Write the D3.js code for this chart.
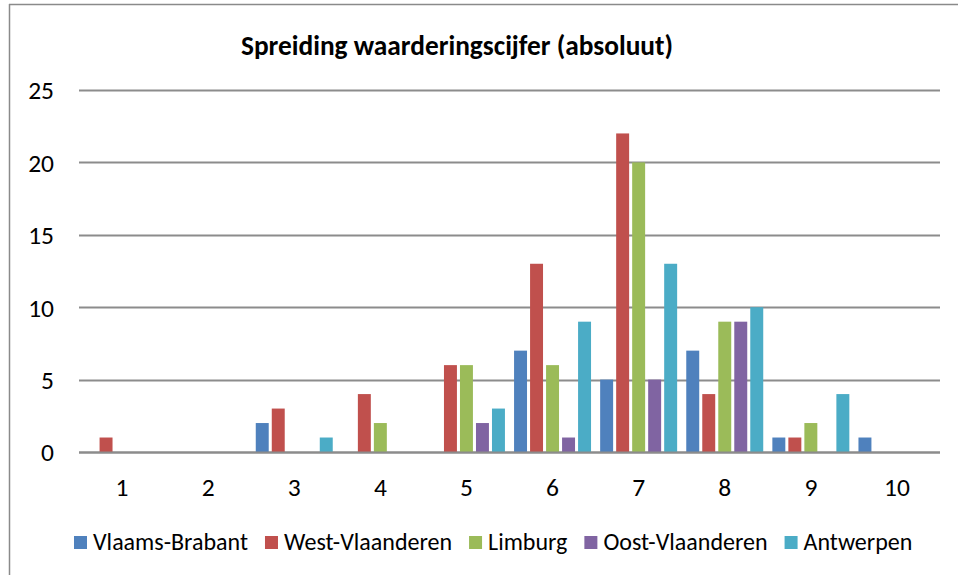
<!DOCTYPE html>
<html>
<head>
<meta charset="utf-8">
<script src="https://cdn.jsdelivr.net/npm/d3@7"></script>
<style>
  html, body { margin: 0; padding: 0; background: #fff; }
  svg { display: block; }
  text { font-family: Carlito, Calibri, Lato, "Liberation Sans", sans-serif; fill: #000; }
</style>
</head>
<body>
<svg id="chart" width="958" height="575"></svg>
<script>
const categories = ["1", "2", "3", "4", "5", "6", "7", "8", "9", "10"];
const seriesNames = ["Vlaams-Brabant", "West-Vlaanderen", "Limburg", "Oost-Vlaanderen", "Antwerpen"];
const vlaamsBrabant  = [0, 0, 2, 0, 0, 7, 5, 7, 1, 1];
const westVlaanderen = [1, 0, 3, 4, 6, 13, 22, 4, 1, 0];
const limburg        = [0, 0, 0, 2, 6, 6, 20, 9, 2, 0];
const oostVlaanderen = [0, 0, 0, 0, 2, 1, 5, 9, 0, 0];
const antwerpen      = [0, 0, 1, 0, 3, 9, 13, 10, 4, 0];
const yTicks = [0, 5, 10, 15, 20, 25];
const colors = ["#4F81BD", "#C0504D", "#9BBB59", "#8064A2", "#4BACC6"];
const titleText = "Spreiding waarderingscijfer (absoluut)";

const seriesValues = [vlaamsBrabant, westVlaanderen, limburg, oostVlaanderen, antwerpen];

const svg = d3.select("#chart");
const plotLeft = 79, plotRight = 940, plotTop = 90, plotBottom = 452;
const axisFont = 25.5;

// frame (top and left edges visible)
svg.append("line").attr("x1", 9).attr("x2", 958).attr("y1", 4.5).attr("y2", 4.5)
  .attr("stroke", "#8a8a8a").attr("stroke-width", 1.5);
svg.append("line").attr("x1", 9.5).attr("x2", 9.5).attr("y1", 4).attr("y2", 575)
  .attr("stroke", "#8a8a8a").attr("stroke-width", 1.5);

const x0 = d3.scaleBand().domain(categories).range([plotLeft, plotRight]).paddingInner(0).paddingOuter(0);
const x1 = d3.scaleBand().domain(seriesNames).range([0, x0.bandwidth()]).paddingInner(0.19).paddingOuter(0.285);
const y = d3.scaleLinear().domain([0, 25]).range([plotBottom, plotTop]);

// gridlines
svg.append("g").selectAll("line").data(yTicks).join("line")
  .attr("x1", plotLeft).attr("x2", plotRight)
  .attr("y1", d => Math.round(y(d)) + 0.5).attr("y2", d => Math.round(y(d)) + 0.5)
  .attr("stroke", "#8c8c8c").attr("stroke-width", 2);

// y axis labels
const yAxis = d3.axisLeft(y).tickValues(yTicks).tickSize(0).tickPadding(0);
const gy = svg.append("g").attr("transform", `translate(${plotLeft - 25},0)`).call(yAxis);
gy.attr("font-size", axisFont).attr("font-family", null);
gy.select(".domain").remove();
gy.selectAll("text").style("font-size", axisFont + "px").attr("dy", "0.35em");

// x axis labels
const xAxis = d3.axisBottom(x0).tickSize(0).tickPadding(0);
const gx = svg.append("g").attr("transform", `translate(0,${plotBottom + 35})`).call(xAxis);
gx.attr("font-size", axisFont).attr("font-family", null);
gx.select(".domain").remove();
gx.selectAll("text").style("font-size", axisFont + "px").attr("dy", "0.35em");

// bars
const groups = svg.append("g").selectAll("g").data(categories).join("g")
  .attr("transform", d => `translate(${x0(d)},0)`);
groups.selectAll("rect")
  .data((c, ci) => seriesNames.map((s, si) => ({ s, si, v: seriesValues[si][ci] })))
  .join("rect")
  .attr("x", d => x1(d.s))
  .attr("width", x1.bandwidth())
  .attr("y", d => y(d.v))
  .attr("height", d => y(0) - y(d.v))
  .attr("fill", d => colors[d.si]);

// axis baseline on top of bars
svg.append("line").attr("x1", plotLeft).attr("x2", plotRight)
  .attr("y1", Math.round(y(0)) + 0.5).attr("y2", Math.round(y(0)) + 0.5)
  .attr("stroke", "#8c8c8c").attr("stroke-width", 2);

// title
const title = svg.append("text").attr("x", 457).attr("y", 55).attr("text-anchor", "middle")
  .style("font-weight", "bold").style("font-size", "22px").text(titleText);
const tw = title.node().getComputedTextLength();
title.style("font-size", (22 * 432 / tw).toFixed(2) + "px");

// legend
const legend = svg.append("g");
let lx = 74;
const ly = 542;
const probe = legend.append("text").style("font-size", "20px").text(seriesNames[0]);
const pw = probe.node().getComputedTextLength();
probe.remove();
const lfs = 20 * 155 / pw;
seriesNames.forEach((s, i) => {
  legend.append("rect").attr("x", lx).attr("y", ly - 6).attr("width", 13).attr("height", 13).attr("fill", colors[i]);
  const t = legend.append("text").attr("x", lx + 19).attr("y", ly).attr("dy", "0.35em")
    .style("font-size", lfs.toFixed(2) + "px").text(s);
  lx += 19 + t.node().getComputedTextLength() + 17;
});
</script>
</body>
</html>
